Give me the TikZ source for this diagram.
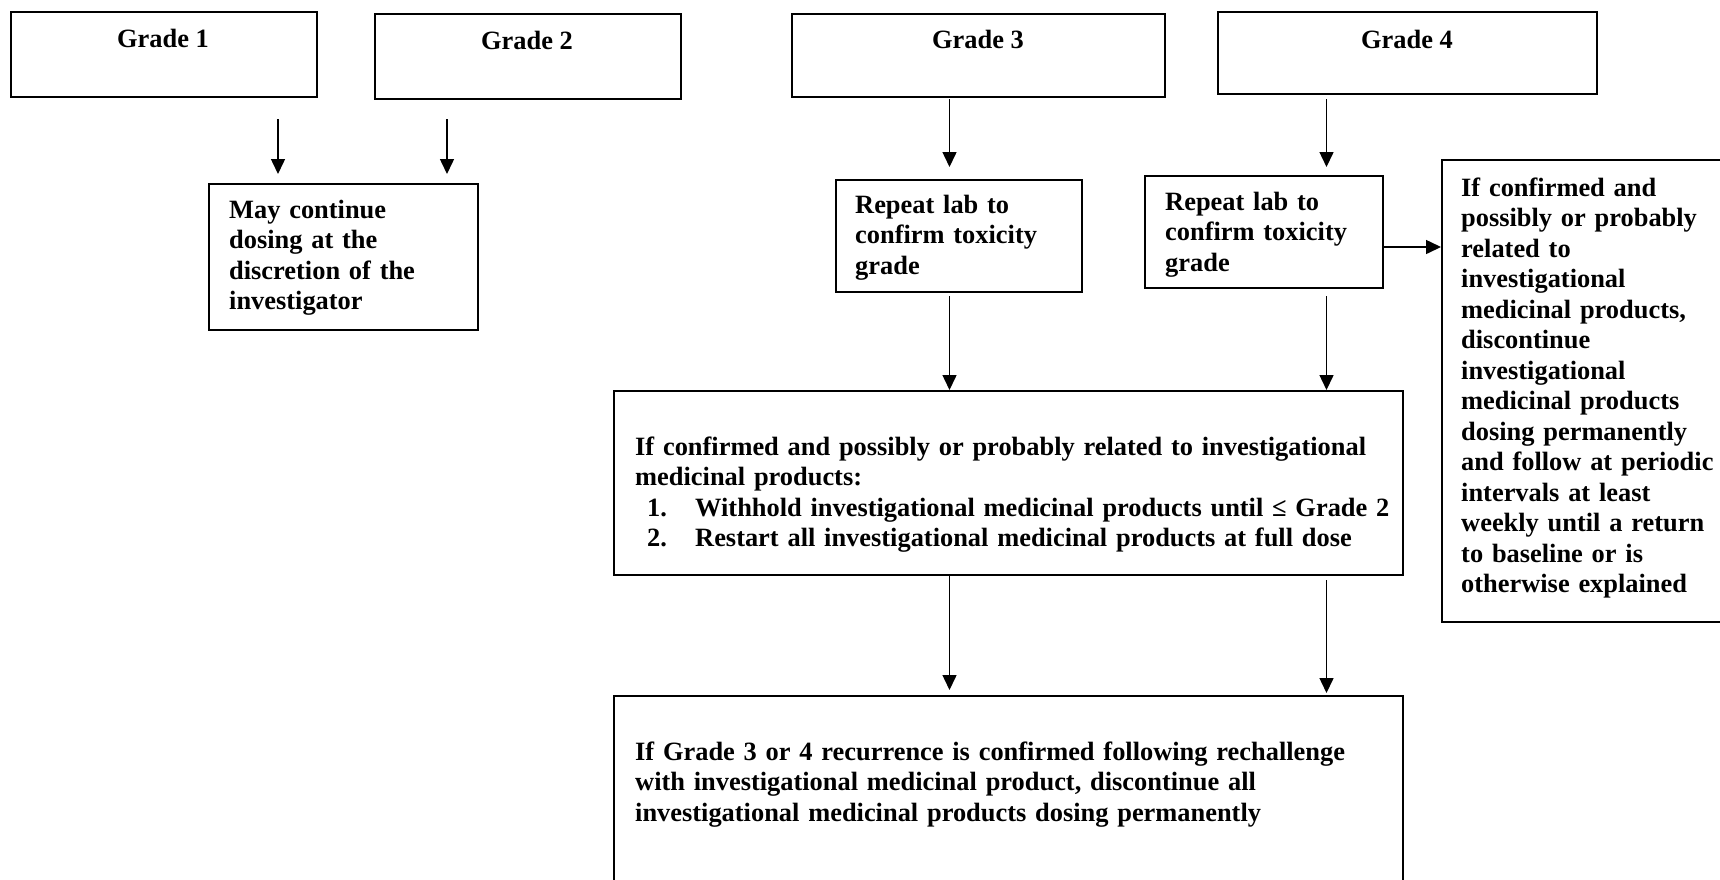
\documentclass[tikz,border=0pt]{standalone}
\usepackage{fontspec}
\setmainfont{Liberation Serif}
\usetikzlibrary{arrows.meta,calc}
\newcommand{\fstrut}{\rule{0pt}{21pt}}
\begin{document}
\begin{tikzpicture}[x=1pt,y=-1pt,
  box/.style={draw, line width=2pt, inner sep=0pt, anchor=north west},
  txt/.style={inner sep=0pt, anchor=north west, align=left, font=\fontsize{26.4}{30.5}\selectfont\bfseries},
  gtxt/.style={inner sep=0pt, anchor=base, font=\fontsize{26.4}{30.5}\selectfont\bfseries},
  arr/.style={line width=1.5pt, -{Triangle[length=15pt,width=14pt]}}]
\fill[white] (0,0) rectangle (1720,879);
\begin{scope}
\clip (0,0) rectangle (1720,879);
% boxes
\node[box, minimum width=306pt, minimum height=85pt] (g1) at (10,11) {};
\node[box, minimum width=306pt, minimum height=85pt] (g2) at (374,13) {};
\node[box, minimum width=373pt, minimum height=83pt] (g3) at (791,13) {};
\node[box, minimum width=379pt, minimum height=82pt] (g4) at (1217,11) {};
\node[box, minimum width=269pt, minimum height=146pt] (may) at (208,183) {};
\node[box, minimum width=246pt, minimum height=112pt] (r3) at (835,179) {};
\node[box, minimum width=238pt, minimum height=112pt] (r4) at (1144,175) {};
\node[box, minimum width=284pt, minimum height=462pt] (side) at (1441,159) {};
\node[box, minimum width=789pt, minimum height=184pt] (main) at (613,390) {};
\node[box, minimum width=789pt, minimum height=210pt] (bot) at (613,695) {};
% texts
\node[gtxt] (t1) at (163,47) {Grade 1};
\node[gtxt] (t2) at (527,49) {Grade 2};
\node[gtxt] (t3) at (978,48) {Grade 3};
\node[gtxt] (t4) at (1407,48) {Grade 4};
\node[txt, text width=250pt] (tmay) at (229,197) {\fstrut May continue\\dosing at the\\discretion of the\\investigator};
\node[txt, text width=230pt] (tr3) at (855,192) {\fstrut Repeat lab to\\confirm toxicity\\grade};
\node[txt, text width=215pt] (tr4) at (1165,189) {\fstrut Repeat lab to\\confirm toxicity\\grade};
\node[txt, text width=258pt] (tside) at (1461,175) {\fstrut If confirmed and\\possibly or probably\\related to\\investigational\\medicinal products,\\discontinue\\investigational\\medicinal products\\dosing permanently\\and follow at periodic\\intervals at least\\weekly until a return\\to baseline or is\\otherwise explained};
\node[txt, text width=780pt] (tmain) at (635,434) {\fstrut If confirmed and possibly or probably related to investigational\\medicinal products:\\\hspace*{12pt}\makebox[48pt][l]{1.}Withhold investigational medicinal products until ≤ Grade 2\\\hspace*{12pt}\makebox[48pt][l]{2.}Restart all investigational medicinal products at full dose};
\node[txt, text width=780pt] (tbot) at (635,739) {\fstrut If Grade 3 or 4 recurrence is confirmed following rechallenge\\with investigational medicinal product, discontinue all\\investigational medicinal products dosing permanently};
% connector columns
\coordinate (a1) at (278,0);
\coordinate (a2) at (447,0);
\coordinate (a3) at (949.5,0);
\coordinate (a4) at (1326.5,0);
\coordinate (ah) at (0,247);
% connectors
\draw[arr, shorten <=21pt, shorten >=9pt] (g1.south -| a1) -- (may.north -| a1);
\draw[arr, shorten <=19pt, shorten >=9pt] (g2.south -| a2) -- (may.north -| a2);
\draw[arr, shorten <=1pt, shorten >=12pt] (g3.south -| a3) -- (r3.north -| a3);
\draw[arr, shorten <=4pt, shorten >=8pt] (g4.south -| a4) -- (r4.north -| a4);
\draw[arr, shorten <=3pt] (r3.south -| a3) -- (main.north -| a3);
\draw[arr, shorten <=7pt] (r4.south -| a4) -- (main.north -| a4);
\draw[arr] (r4.east |- ah) -- (side.west |- ah);
\draw[arr, shorten >=5pt] (main.south -| a3) -- (bot.north -| a3);
\draw[arr, shorten <=4pt, shorten >=2pt] (main.south -| a4) -- (bot.north -| a4);
\end{scope}
\pgfresetboundingbox
\path[use as bounding box] (0,0) rectangle (1720,879);
\end{tikzpicture}
\end{document}
